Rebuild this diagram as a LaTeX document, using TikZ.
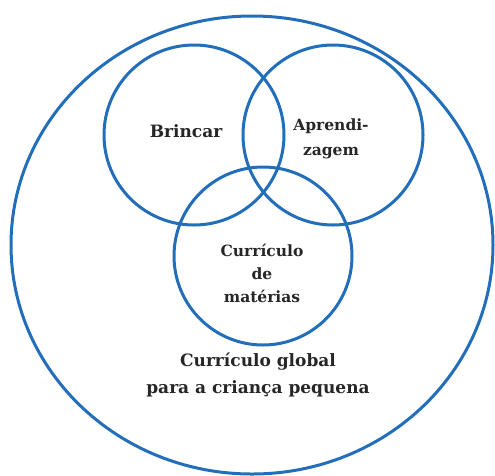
\documentclass[tikz,border=0pt]{standalone}
\usepackage{fontspec}
\setmainfont{DejaVu Serif}
\definecolor{vennblue}{RGB}{34,110,186}
\tikzset{
  ring/.style={draw=vennblue, line width=3pt},
  label/.style={font=\bfseries\fontsize{15.5}{23}\selectfont, align=center, text=black!85, inner sep=0pt},
  biglabel/.style={font=\bfseries\fontsize{17}{27}\selectfont, align=center, text=black!85, inner sep=0pt}
}

\begin{document}
\begin{tikzpicture}[x=1pt, y=-1pt]
            \useasboundingbox (0,0) rectangle (495,475);
            \draw[ring] (252,245) ellipse (241 and 229);
            \draw[ring] (194,135) circle (90);
            \draw[ring] (333,135) circle (90);
            \draw[ring] (263,256) circle (89);
            \node[label, font=\bfseries\fontsize{17}{23}\selectfont] (brincar) at (186,131) {Brincar};
            \node[label, font=\bfseries\fontsize{15.5}{25}\selectfont] (aprend) at (331,139) {Aprendi-\\zagem};
            \node[label] (materias) at (262,273) {Currículo\\de\\matérias};
            \node[biglabel] (global) at (258,375) {Currículo global\\para a criança pequena};
        \end{tikzpicture}
\end{document}
